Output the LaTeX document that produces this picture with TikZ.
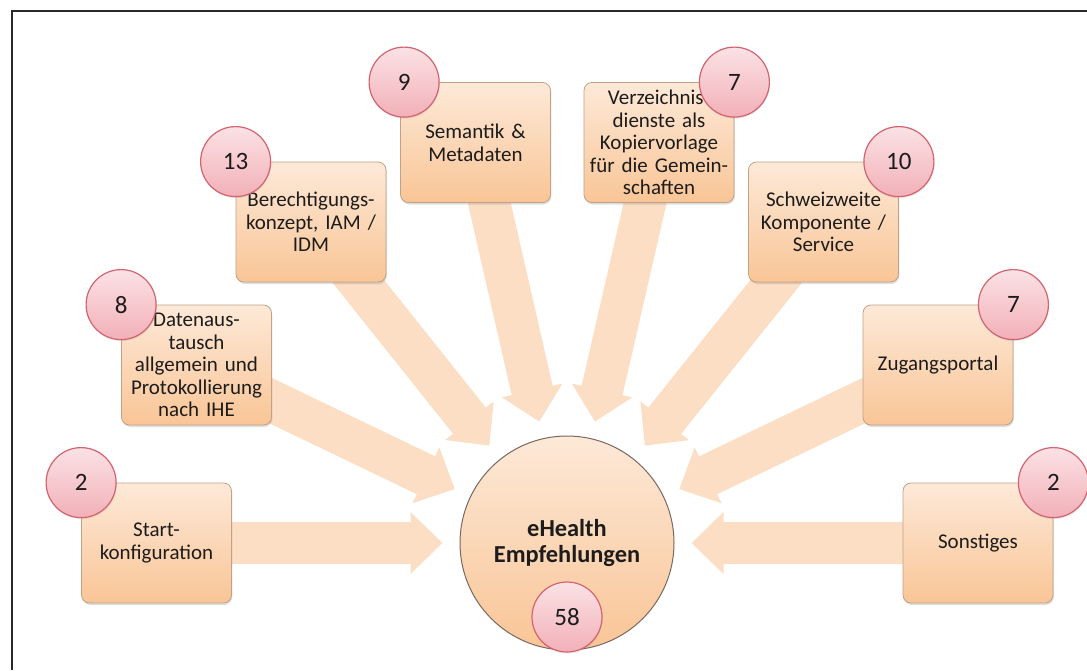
\documentclass[tikz,border=0pt]{standalone}
\usepackage{fontspec}
\setmainfont{Carlito}
\usetikzlibrary{arrows.meta,backgrounds,shadows}

\definecolor{boxtop}{RGB}{253,233,216}
\definecolor{boxbottom}{RGB}{249,197,150}
\definecolor{boxedge}{RGB}{196,160,132}
\definecolor{flowcol}{RGB}{251,222,196}
\definecolor{badgetop}{RGB}{251,226,229}
\definecolor{badgebottom}{RGB}{242,176,184}
\definecolor{badgeedge}{RGB}{210,100,112}
\definecolor{hubedge}{RGB}{120,104,96}
\definecolor{txt}{RGB}{28,28,28}
\definecolor{framecol}{RGB}{40,40,40}

\begin{document}
\begin{tikzpicture}[x=0.5pt,y=-0.5pt,
    topic/.style={rectangle, rounded corners=4pt, minimum width=75pt,
      minimum height=60pt, text width=72pt, inner sep=1pt, align=center,
      top color=boxtop, bottom color=boxbottom, draw=boxedge, line width=0.4pt,
      text=txt, font=\fontsize{10.5}{11.3}\selectfont,
      drop shadow={shadow xshift=0.4pt, shadow yshift=-1pt, opacity=0.25}},
    count/.style={circle, minimum size=35pt, inner sep=0pt,
      top color=badgetop, bottom color=badgebottom, draw=badgeedge, line width=0.6pt,
      text=txt, font=\fontsize{12.5}{14}\selectfont,
      drop shadow={shadow xshift=0.3pt, shadow yshift=-0.8pt, opacity=0.15}},
    hub/.style={circle, minimum size=107pt, inner sep=0pt, align=center,
      top color=boxtop, bottom color=boxbottom, draw=hubedge, line width=0.5pt,
      text=txt, font=\fontsize{12.2}{13.2}\selectfont\bfseries},
    flow/.style={draw=flowcol, line width=21pt,
      -{Triangle[width=30pt,length=16pt]}, shorten >=8.5pt, shorten <=-8pt}]

  \useasboundingbox (0,0) rectangle (1087,670);
  \draw[framecol, line width=0.8pt] (12,670) -- (12,11) -- (1087,11);

  % topics
  \node[topic] (start)    at (156.5,543) {Start-\\konfiguration};
  \node[topic] (daten)    at (196.5,365) {Datenaus-\\tausch\\allgemein und\\Protokollierung\\nach IHE};
  \node[topic] (berecht)  at (311,222)   {Berechtigungs-\\konzept, IAM /\\IDM};
  \node[topic] (semantik) at (475.5,142.5) {Semantik \&\\Metadaten};
  \node[topic] (verz)     at (659,142.5) {Verzeichnis-\\dienste als\\Kopiervorlage\\für die Gemein-\\schaften};
  \node[topic] (schweiz)  at (823.5,222) {Schweizweite\\Komponente /\\Service};
  \node[topic] (zugang)   at (938,365)   {Zugangsportal};
  \node[topic] (sonst)    at (978,543)   {Sonstiges};

  \node[hub] (hub) at (567,543) {eHealth\\Empfehlungen};

  % counts
  \node[count] (n-start)    at (start.north west)    {2};
  \node[count] (n-daten)    at (daten.north west)    {8};
  \node[count] (n-berecht)  at (berecht.north west)  {13};
  \node[count] (n-semantik) at ([xshift=2pt]semantik.north west) {9};
  \node[count] (n-verz)     at (verz.north east)     {7};
  \node[count] (n-schweiz)  at (schweiz.north east)  {10};
  \node[count] (n-zugang)   at (zugang.north east)   {7};
  \node[count] (n-sonst)    at (sonst.north east)    {2};
  \node[count] (n-hub)      at (567,617)             {58};

  \begin{pgfonlayer}{background}
    \foreach \t in {start,daten,berecht,semantik,verz,schweiz,zugang,sonst}
      \draw[flow] (\t) -- (hub);
  \end{pgfonlayer}

\end{tikzpicture}
\end{document}
